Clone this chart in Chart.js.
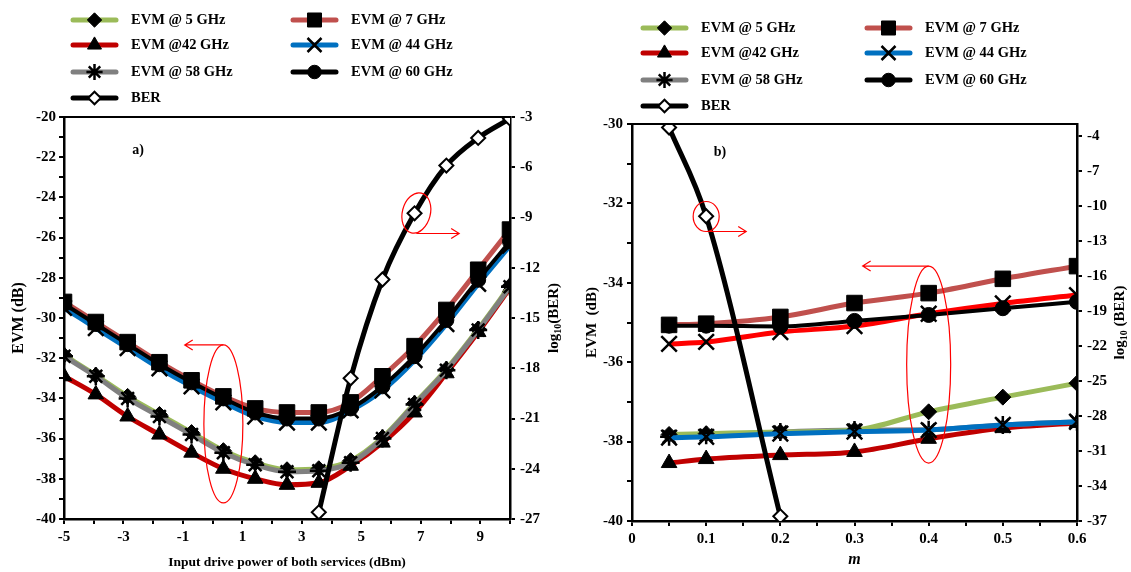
<!DOCTYPE html>
<html>
<head>
<meta charset="utf-8">
<script src="https://cdn.jsdelivr.net/npm/chart.js@4/dist/chart.umd.min.js"></script>
<style>
  html, body { margin: 0; padding: 0; background: #fff; }
  #wrap { position: relative; width: 1131px; height: 572px; }
  canvas { position: absolute; top: 0; }
</style>
</head>
<body>
<div id="wrap">
  <canvas id="chartA" width="566" height="572" style="left:0"></canvas>
  <canvas id="chartB" width="565" height="572" style="left:566px"></canvas>
</div>
<script>
// ---- panel a) : EVM / BER against input drive power ----
const powerDbm = [-5, -3.93, -2.86, -1.79, -0.71, 0.36, 1.43, 2.5, 3.57, 4.64, 5.71, 6.79, 7.86, 8.93, 10];
const evm5A  = [-31.85, -32.85, -33.9, -34.8, -35.7, -36.6, -37.2, -37.55, -37.5, -37.1, -35.95, -34.25, -32.55, -30.55, -28.4];
const evm7A  = [-29.2, -30.2, -31.2, -32.2, -33.1, -33.9, -34.5, -34.7, -34.7, -34.2, -32.9, -31.4, -29.6, -27.6, -25.6];
const evm42A = [-32.9, -33.8, -34.9, -35.8, -36.7, -37.5, -38.0, -38.3, -38.2, -37.35, -36.2, -34.7, -32.75, -30.7, -28.5];
const evm44A = [-29.5, -30.5, -31.5, -32.5, -33.4, -34.2, -34.9, -35.2, -35.2, -34.6, -33.6, -32.1, -30.3, -28.3, -26.4];
const evm58A = [-31.9, -32.9, -34.0, -34.9, -35.8, -36.7, -37.3, -37.65, -37.6, -37.2, -36.0, -34.3, -32.6, -30.6, -28.45];
const evm60A = [-29.3, -30.3, -31.3, -32.3, -33.2, -34.0, -34.7, -35.0, -35.0, -34.5, -33.4, -31.9, -30.1, -28.1, -26.2];
const berPowerA = [3.57, 4.64, 5.71, 6.79, 7.86, 8.93, 10];
const berA = [-26.6, -18.6, -12.7, -8.75, -5.9, -4.25, -3.1];

// ---- panel b) : EVM / BER against modulation index m ----
const modIndex = [0.05, 0.1, 0.2, 0.3, 0.4, 0.5, 0.6];
const evm5B  = [-37.82, -37.8, -37.76, -37.71, -37.25, -36.88, -36.53];
const evm7B  = [-35.06, -35.03, -34.86, -34.51, -34.26, -33.9, -33.58];
const evm42B = [-38.54, -38.44, -38.34, -38.26, -37.93, -37.66, -37.53];
const evm44B = [-37.9, -37.88, -37.8, -37.75, -37.71, -37.58, -37.5];
const evm58B = [-37.88, -37.84, -37.76, -37.71, -37.7, -37.58, -37.5];
const evm60B = [-35.08, -35.08, -35.1, -34.96, -34.81, -34.64, -34.48];
const unlabeledB = [-35.54, -35.49, -35.24, -35.09, -34.78, -34.52, -34.31];
const berModIndex = [0.05, 0.1, 0.2];
const berB = [-3.3, -10.9, -36.6];
const berTicksB = [-37, -34, -31, -28, -25, -22, -19, -16, -13, -10, -7, -4];

const serif = "'Liberation Serif', 'Times New Roman', serif";
Chart.defaults.font.family = serif;
Chart.defaults.font.size = 15;
Chart.defaults.font.weight = 'bold';
Chart.defaults.color = '#000';

const styles = {
  evm5:  { label: 'EVM @ 5 GHz',  color: '#9bbb59', point: 'rectRot',  r: 8,   slot: [0, 0] },
  evm7:  { label: 'EVM @ 7 GHz',  color: '#c0504d', point: 'rect',     r: 11,  slot: [1, 0] },
  evm42: { label: 'EVM @42 GHz',  color: '#c00000', point: 'triangle', r: 9,   slot: [0, 1] },
  evm44: { label: 'EVM @ 44 GHz', color: '#0070c0', point: 'crossRot', r: 11,  slot: [1, 1] },
  evm58: { label: 'EVM @ 58 GHz', color: '#808080', point: 'star',     r: 9,   slot: [0, 2] },
  evm60: { label: 'EVM @ 60 GHz', color: '#000000', point: 'circle',   r: 7.5, slot: [1, 2] },
  ber:   { label: 'BER',          color: '#000000', point: 'rectRot',  r: 7,   slot: [0, 3] },
  extra: { label: '',             color: '#ff0000', point: 'crossRot', r: 11,  slot: null }
};

function series(key, xs, ys, order, axis) {
  const s = styles[key];
  const thin = s.point === 'crossRot' || s.point === 'star';
  return {
    label: s.label,
    data: xs.map((x, i) => ({ x: x, y: ys[i] })),
    yAxisID: axis || 'y',
    order: order,
    borderColor: s.color,
    borderWidth: key === 'evm60' ? 4 : 5,
    pointStyle: s.point,
    pointRadius: s.r,
    pointHoverRadius: s.r,
    pointBackgroundColor: key === 'ber' ? '#fff' : '#000',
    pointBorderColor: '#000',
    pointBorderWidth: thin ? 2.5 : (key === 'ber' ? 2 : 1),
    cubicInterpolationMode: 'monotone',
    legendSlot: s.slot
  };
}

// two column legend above each panel
const gridLegend = {
  id: 'gridLegend',
  afterDraw(chart, args, opts) {
    const ctx = chart.ctx;
    ctx.save();
    chart.data.datasets.forEach(ds => {
      if (!ds.legendSlot) return;
      const x0 = opts.cols[ds.legendSlot[0]];
      const y = opts.rows[ds.legendSlot[1]];
      ctx.strokeStyle = ds.borderColor;
      ctx.lineWidth = 5;
      ctx.lineCap = 'round';
      ctx.beginPath();
      ctx.moveTo(x0, y);
      ctx.lineTo(x0 + 43, y);
      ctx.stroke();
      ctx.lineCap = 'butt';
      ctx.fillStyle = ds.pointBackgroundColor;
      ctx.strokeStyle = '#000';
      ctx.lineWidth = ds.pointBorderWidth;
      Chart.helpers.drawPoint(ctx, {
        pointStyle: ds.pointStyle, radius: ds.pointRadius * 0.9, rotation: 0, borderWidth: ds.pointBorderWidth
      }, x0 + 21.5, y);
      ctx.fillStyle = '#000';
      ctx.font = 'bold 14.5px ' + serif;
      ctx.textAlign = 'left';
      ctx.textBaseline = 'middle';
      ctx.fillText(ds.label, x0 + 58, y);
    });
    ctx.restore();
  }
};

// frame top, panel letter, red callouts, right axis title with subscript
const marks = {
  id: 'marks',
  afterDatasetsDraw(chart, args, opts) {
    const ctx = chart.ctx, a = chart.chartArea, sx = chart.scales.x;
    ctx.save();
    ctx.strokeStyle = '#000';
    ctx.lineWidth = 2;
    ctx.beginPath();
    ctx.moveTo(a.left, a.top);
    ctx.lineTo(a.right, a.top);
    ctx.stroke();

    ctx.fillStyle = '#000';
    ctx.font = 'bold 14px ' + serif;
    ctx.textAlign = 'center';
    ctx.textBaseline = 'middle';
    ctx.fillText(opts.panel, a.left + opts.panelAt[0], a.top + opts.panelAt[1]);

    ctx.strokeStyle = '#ff0000';
    ctx.lineWidth = 1.2;
    opts.rings.forEach(r => {
      const cx = sx.getPixelForValue(r.x);
      const cy = chart.scales[r.axis].getPixelForValue(r.y);
      ctx.beginPath();
      ctx.ellipse(cx, cy, r.rx, r.ry, r.rot || 0, 0, Math.PI * 2);
      ctx.stroke();
      const ay = cy + r.side * r.ry;
      const tx = sx.getPixelForValue(r.to);
      const d = tx > cx ? -1 : 1;
      ctx.beginPath();
      ctx.moveTo(cx, ay);
      ctx.lineTo(tx, ay);
      ctx.moveTo(tx + d * 8, ay - 5);
      ctx.lineTo(tx, ay);
      ctx.lineTo(tx + d * 8, ay + 5);
      ctx.stroke();
    });

    // log10(BER) title, rotated
    ctx.translate(chart.width - opts.berTitleOffset, (a.top + a.bottom) / 2);
    ctx.rotate(-Math.PI / 2);
    ctx.fillStyle = '#000';
    ctx.textAlign = 'left';
    ctx.font = 'bold 15px ' + serif;
    const w1 = ctx.measureText('log').width;
    const w3 = ctx.measureText(opts.berTail).width;
    ctx.font = 'bold 10px ' + serif;
    const w2 = ctx.measureText('10').width;
    let x = -(w1 + w2 + w3) / 2;
    ctx.font = 'bold 15px ' + serif;
    ctx.fillText('log', x, 0);
    ctx.font = 'bold 10px ' + serif;
    ctx.fillText('10', x + w1, 4);
    ctx.font = 'bold 15px ' + serif;
    ctx.fillText(opts.berTail, x + w1 + w2, 0);
    ctx.restore();
  }
};

const tickGrid = { drawOnChartArea: false, drawTicks: true, tickLength: 5, color: '#000', lineWidth: 2 };
const axisLine = { color: '#000', width: 2.5 };

const chartA = new Chart(document.getElementById('chartA'), {
  type: 'line',
  data: {
    datasets: [
      series('evm5', powerDbm, evm5A, 5),
      series('evm7', powerDbm, evm7A, 2),
      series('evm42', powerDbm, evm42A, 6),
      series('evm44', powerDbm, evm44A, 3),
      series('evm58', powerDbm, evm58A, 4),
      series('evm60', powerDbm, evm60A, 1),
      series('ber', berPowerA, berA, 0, 'y1')
    ]
  },
  options: {
    responsive: false,
    animation: false,
    layout: { padding: { top: 117, left: 0, right: 0, bottom: 0 } },
    plugins: {
      legend: { display: false },
      tooltip: { enabled: false },
      gridLegend: { cols: [73, 293], rows: [20, 45, 72, 98] },
      marks: {
        panel: 'a)', panelAt: [74, 33], berTitleOffset: 12, berTail: '(BER)',
        rings: [
          { x: 0.36, y: -35.27, axis: 'y', rx: 19.5, ry: 79, side: -1, to: -0.94 },
          { x: 6.85, y: -8.73, axis: 'y1', rx: 14, ry: 20.5, rot: 0.25, side: 1, to: 8.29 }
        ]
      }
    },
    scales: {
      x: {
        type: 'linear', min: -5, max: 10,
        ticks: { stepSize: 1, autoSkip: false, maxRotation: 0, padding: 4,
          callback: v => Math.abs(v) % 2 === 1 ? String(v) : '' },
        grid: tickGrid, border: axisLine,
        title: { display: true, text: 'Input drive power of both services (dBm)', font: { size: 13.5 }, padding: { top: 0, bottom: 1 } },
        afterFit: s => { s.height = 53; }
      },
      y: {
        min: -40, max: -20,
        ticks: { stepSize: 1, autoSkip: false, padding: 3, callback: v => v % 2 === 0 ? String(v) : '' },
        grid: tickGrid, border: axisLine,
        title: { display: true, text: 'EVM (dB)', font: { size: 16 }, padding: { top: 9, bottom: 0 } },
        afterFit: s => { s.width = 64; }
      },
      y1: {
        position: 'right', min: -27, max: -3,
        ticks: { stepSize: 3, autoSkip: false, padding: 5, callback: v => String(v) },
        grid: tickGrid, border: axisLine,
        afterFit: s => { s.width = 56; }
      }
    }
  },
  plugins: [gridLegend, marks]
});

const chartB = new Chart(document.getElementById('chartB'), {
  type: 'line',
  data: {
    datasets: [
      series('evm5', modIndex, evm5B, 5),
      series('evm7', modIndex, evm7B, 3),
      series('evm42', modIndex, evm42B, 7),
      series('evm44', modIndex, evm44B, 4),
      series('evm58', modIndex, evm58B, 6),
      series('evm60', modIndex, evm60B, 1),
      series('extra', modIndex, unlabeledB, 2),
      series('ber', berModIndex, berB, 0, 'y1')
    ]
  },
  options: {
    responsive: false,
    animation: false,
    layout: { padding: { top: 124, left: 0, right: 0, bottom: 0 } },
    plugins: {
      legend: { display: false },
      tooltip: { enabled: false },
      gridLegend: { cols: [77, 301], rows: [28, 53, 80, 106] },
      marks: {
        panel: 'b)', panelAt: [88, 28], berTitleOffset: 11, berTail: ' (BER)',
        rings: [
          { x: 0.1, y: -10.92, axis: 'y1', rx: 13, ry: 15, side: 1, to: 0.154 },
          { x: 0.4, y: -36.06, axis: 'y', rx: 22, ry: 98.5, side: -1, to: 0.311 }
        ]
      }
    },
    scales: {
      x: {
        type: 'linear', min: 0, max: 0.6,
        ticks: { stepSize: 0.05, autoSkip: false, maxRotation: 0, padding: 4,
          callback: v => {
            const k = Math.round(v * 100);
            if (k % 10 !== 0) return '';
            return k === 0 ? '0' : (k / 100).toFixed(1);
          } },
        grid: tickGrid, border: axisLine,
        title: { display: true, text: 'm', font: { style: 'italic', size: 16 }, padding: { top: 0, bottom: 3 } },
        afterFit: s => { s.height = 51; }
      },
      y: {
        min: -40, max: -30,
        ticks: { stepSize: 1, autoSkip: false, padding: 4, callback: v => v % 2 === 0 ? String(v) : '' },
        grid: tickGrid, border: axisLine,
        title: { display: true, text: 'EVM  (dB)', font: { size: 15 }, padding: { top: 17, bottom: 0 } },
        afterFit: s => { s.width = 66; }
      },
      y1: {
        position: 'right', min: -37, max: -3,
        afterBuildTicks: s => { s.ticks = berTicksB.map(v => ({ value: v })); },
        ticks: { autoSkip: false, padding: 5, callback: v => String(v) },
        grid: tickGrid, border: axisLine,
        afterFit: s => { s.width = 54; }
      }
    }
  },
  plugins: [gridLegend, marks]
});
</script>
</body>
</html>
